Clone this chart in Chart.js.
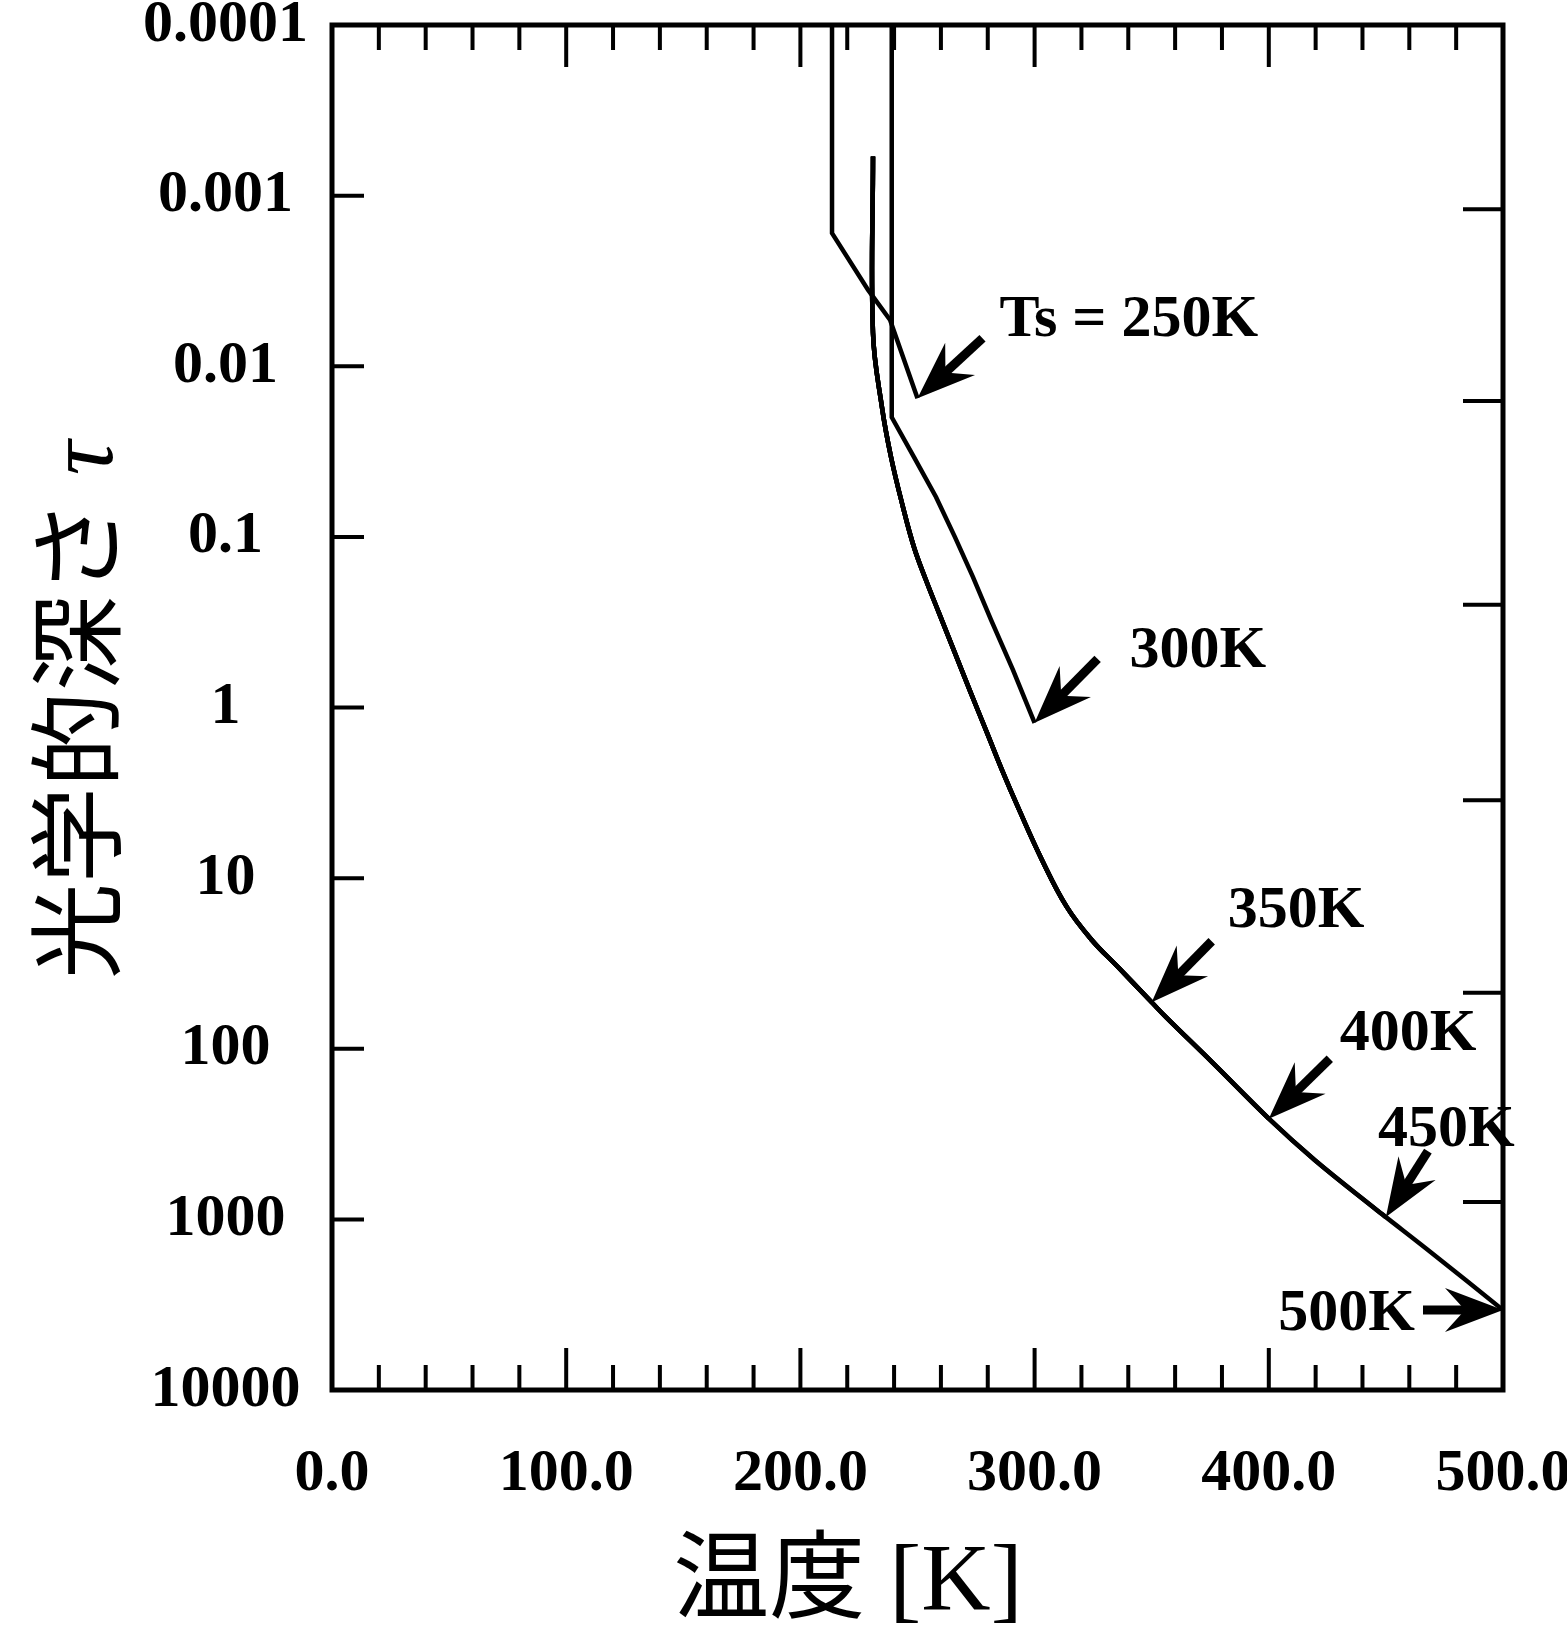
<!DOCTYPE html>
<html>
<head>
<meta charset="utf-8">
<script src="https://cdn.jsdelivr.net/npm/chart.js@4.4.1/dist/chart.umd.min.js"></script>
<style>
  html, body { margin: 0; padding: 0; background: #fff; }
  canvas { display: block; }
</style>
</head>
<body>
<canvas id="profile" width="1567" height="1631"></canvas>
<script>
// Temperature profiles [K] against optical depth, one per surface temperature Ts
const surfaceT = [250, 300, 350, 400, 450, 500];
const surfaceLabels = ['Ts = 250K', '300K', '350K', '400K', '450K', '500K'];

// Ts = 250K
const cold250T = [213.5, 213.5, 228.9, 238.3, 250];
const cold250Tau = [0.0001, 0.00166, 0.00357, 0.00536, 0.0154];

// Ts = 300K
const warm300T = [239, 239, 248.5, 257.9, 266.0, 273.7, 281.4, 290.8, 300];
const warm300Tau = [0.0001, 0.0199, 0.0341, 0.0584, 0.1003, 0.172, 0.307, 0.604, 1.23];

// Ts = 350K..500K follow the same profile, each one stops at its own surface
const deepT = [231, 231, 234.8, 238.7, 243.8, 248.5, 253.6, 259.2, 266.0, 272.8, 279.7, 286.1,
  292.9, 303.2, 313.8, 324.5, 335.6, 350, 356.1, 376.2, 400, 419.7, 446.2, 450, 469.7, 500];
const deepTau = [0.00059, 0.0064, 0.0173, 0.0341, 0.0669, 0.115, 0.179, 0.28, 0.48, 0.823, 1.41, 2.33,
  3.84, 7.85, 14.8, 23.1, 33.2, 53.4, 65.3, 121.5, 257, 450, 883, 970, 1578, 3400];

const xTickValues = [0, 100, 200, 300, 400, 500];
const xMinorStep = 20;
const yTickValues = [1e-4, 1e-3, 1e-2, 1e-1, 1, 10, 100, 1000, 10000];
const yTickLabels = ['0.0001', '0.001', '0.01', '0.1', '1', '10', '100', '1000', '10000'];
// marks on the right-hand frame
const rightTickTau = [0.0012, 0.016, 0.25, 3.5, 47, 790];

const pts = (ts, taus) => ts.map((t, i) => ({ x: t, y: taus[i] }));
const profiles = [
  pts(cold250T, cold250Tau),
  pts(warm300T, warm300Tau),
  ...surfaceT.slice(2).map(ts => pts(deepT, deepTau).filter(p => p.x <= ts))
];

// arrow tail and label offsets from the surface point, in pixels
const callouts = [
  { tail: [65, -60], text: [82, -82], align: 'left' },
  { tail: [63, -64], text: [95, -76], align: 'left' },
  { tail: [60, -61], text: [76, -95], align: 'left' },
  { tail: [61, -60], text: [71, -89], align: 'left' },
  { tail: [42, -66], text: [-8, -91], align: 'left' },
  { tail: [-80, 0], text: [-88, 0], align: 'right' }
];

const SERIF = "'Liberation Serif', 'Times New Roman', serif";
const CJK = "'Noto Sans CJK JP', 'Noto Sans CJK SC', sans-serif";

function drawArrow(ctx, tx, ty, sx, sy) {
  const dx = sx - tx, dy = sy - ty, len = Math.hypot(dx, dy);
  const ux = dx / len, uy = dy / len, nx = -uy, ny = ux;
  ctx.lineWidth = 9;
  ctx.beginPath();
  ctx.moveTo(tx + ux * 30, ty + uy * 30);
  ctx.lineTo(sx, sy);
  ctx.stroke();
  ctx.beginPath();
  ctx.moveTo(tx, ty);
  ctx.lineTo(tx + ux * 58 + nx * 22, ty + uy * 58 + ny * 22);
  ctx.lineTo(tx + ux * 38, ty + uy * 38);
  ctx.lineTo(tx + ux * 58 - nx * 22, ty + uy * 58 - ny * 22);
  ctx.closePath();
  ctx.fill();
}

// box and inward tick marks on all four sides
const framePlugin = {
  id: 'frame',
  afterDatasetsDraw(chart) {
    const { ctx, chartArea: a, scales: { x, y } } = chart;
    ctx.save();
    ctx.strokeStyle = '#000';
    ctx.lineWidth = 4;
    ctx.beginPath();
    for (let t = xMinorStep; t < 500; t += xMinorStep) {
      const px = x.getPixelForValue(t);
      const len = t % 100 === 0 ? 42 : 25;
      ctx.moveTo(px, a.bottom); ctx.lineTo(px, a.bottom - len);
      ctx.moveTo(px, a.top); ctx.lineTo(px, a.top + len);
    }
    yTickValues.slice(1, -1).forEach(v => {
      const py = y.getPixelForValue(v);
      ctx.moveTo(a.left, py); ctx.lineTo(a.left + 32, py);
    });
    rightTickTau.forEach(v => {
      const py = y.getPixelForValue(v);
      ctx.moveTo(a.right, py); ctx.lineTo(a.right - 40, py);
    });
    ctx.stroke();
    ctx.lineWidth = 5;
    ctx.strokeRect(a.left, a.top, a.right - a.left, a.bottom - a.top);
    ctx.restore();
  }
};

// Ts labels with arrows pointing at the bottom of each profile
const calloutPlugin = {
  id: 'callouts',
  afterDatasetsDraw(chart) {
    const { ctx } = chart;
    ctx.save();
    ctx.fillStyle = '#000';
    ctx.strokeStyle = '#000';
    ctx.font = 'bold 60px ' + SERIF;
    ctx.textBaseline = 'alphabetic';
    callouts.forEach((c, i) => {
      const pts = chart.getDatasetMeta(i).data;
      const tip = pts[pts.length - 1];
      drawArrow(ctx, tip.x, tip.y, tip.x + c.tail[0], tip.y + c.tail[1]);
      ctx.textAlign = c.align;
      ctx.fillText(surfaceLabels[i], tip.x + c.text[0], tip.y + c.text[1] + 20);
    });
    ctx.restore();
  }
};

// axis titles mix a CJK face with serif Latin / Greek
const titlePlugin = {
  id: 'titles',
  afterDraw(chart) {
    const { ctx } = chart;
    ctx.save();
    ctx.fillStyle = '#000';
    ctx.textBaseline = 'alphabetic';
    ctx.textAlign = 'left';

    const xParts = [['温度', '96px ' + CJK], [' [K]', '96px ' + SERIF]];
    const yParts = [['光学的深さ', '96px ' + CJK], [' ', '96px ' + SERIF], ['τ', 'italic 96px ' + SERIF]];
    const widthOf = parts => parts.reduce((s, [t, f]) => { ctx.font = f; return s + ctx.measureText(t).width; }, 0);

    let w = widthOf(xParts);
    let cx = 848 - w / 2;
    xParts.forEach(([t, f]) => { ctx.font = f; ctx.fillText(t, cx, 1610); cx += ctx.measureText(t).width; });

    ctx.translate(112, 710);
    ctx.rotate(-Math.PI / 2);
    w = widthOf(yParts);
    cx = -w / 2;
    yParts.forEach(([t, f]) => { ctx.font = f; ctx.fillText(t, cx, 0); cx += ctx.measureText(t).width; });
    ctx.restore();
  }
};

new Chart(document.getElementById('profile'), {
  type: 'scatter',
  data: {
    datasets: profiles.map((data, i) => ({
      label: 'Ts = ' + surfaceT[i] + 'K',
      data,
      showLine: true,
      borderColor: '#000',
      borderWidth: 4.5,
      pointRadius: 0,
      fill: false,
      // the 250K / 300K profiles have a sharp corner at the isothermal top
      tension: i < 2 ? 0 : 0.4
    }))
  },
  options: {
    responsive: false,
    devicePixelRatio: 1,
    animation: false,
    layout: { padding: { top: 25, right: 64, left: 0, bottom: 0 } },
    plugins: {
      legend: { display: false },
      tooltip: { enabled: false }
    },
    scales: {
      x: {
        type: 'linear',
        min: 0,
        max: 500,
        grid: { display: false, drawTicks: false },
        border: { display: false },
        afterBuildTicks: scale => { scale.ticks = xTickValues.map(v => ({ value: v })); },
        afterFit: scale => {
          scale.height = 241;
          scale.paddingLeft = 0;
          scale.paddingRight = 0;
        },
        ticks: {
          autoSkip: false,
          maxRotation: 0,
          padding: 48,
          color: '#000',
          font: { family: SERIF, size: 60, weight: 'bold' },
          callback: v => v.toFixed(1)
        }
      },
      y: {
        type: 'logarithmic',
        reverse: true,
        min: 1e-4,
        max: 1e4,
        grid: { display: false, drawTicks: false },
        border: { display: false },
        afterBuildTicks: scale => { scale.ticks = yTickValues.map(v => ({ value: v })); },
        afterFit: scale => {
          scale.width = 332;
          scale.paddingTop = 0;
          scale.paddingBottom = 0;
        },
        ticks: {
          autoSkip: false,
          crossAlign: 'center',
          padding: 24,
          color: '#000',
          font: { family: SERIF, size: 60, weight: 'bold' },
          callback: (v, i) => yTickLabels[i]
        }
      }
    }
  },
  plugins: [framePlugin, calloutPlugin, titlePlugin]
});
</script>
</body>
</html>
